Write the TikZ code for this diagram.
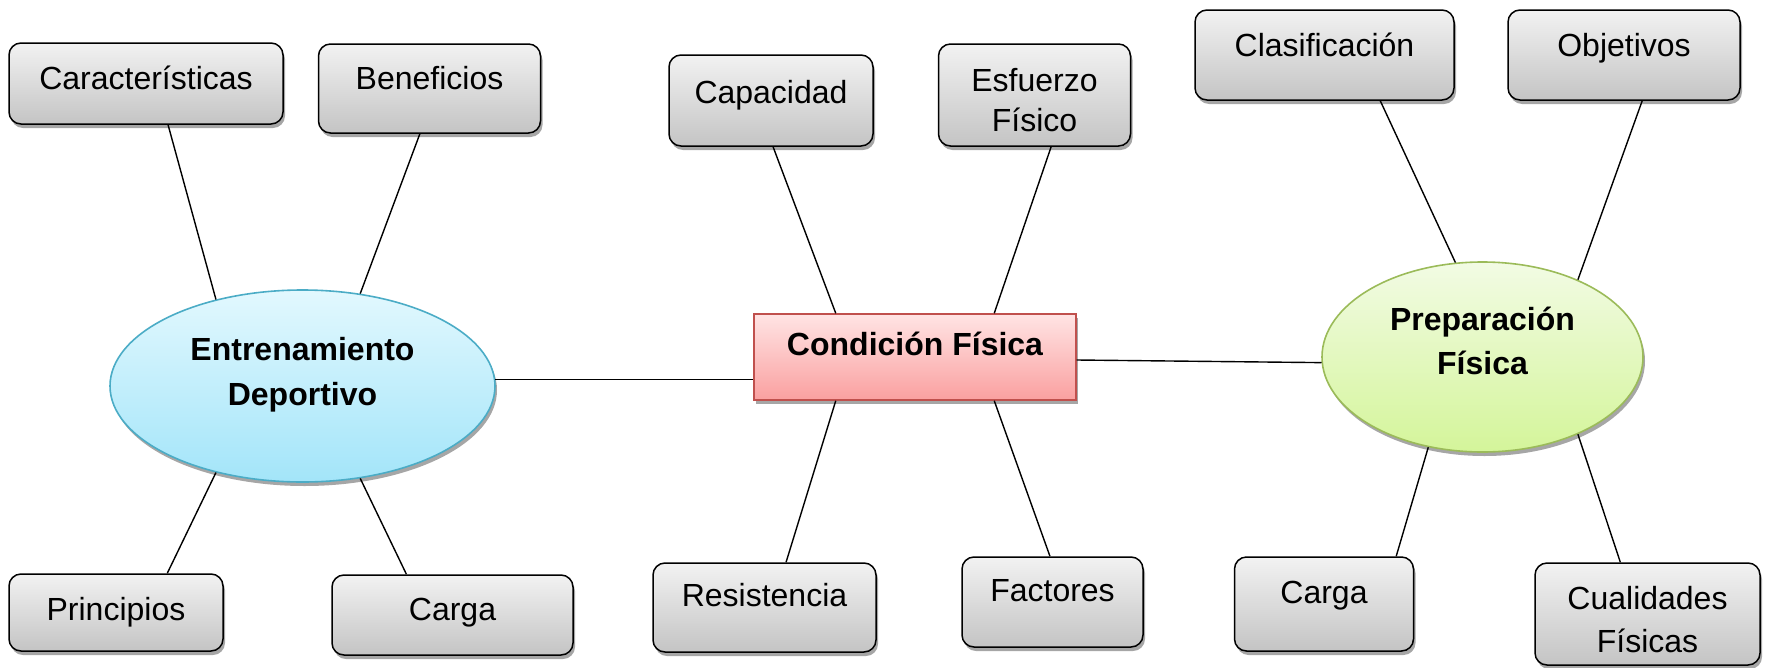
\documentclass[tikz,border=0pt]{standalone}
\usepackage{fontspec}
\setmainfont{Liberation Sans}
\usetikzlibrary{shapes.geometric,shadows,calc}
\definecolor{boxtop}{RGB}{242,242,242}
\definecolor{boxbot}{RGB}{196,196,196}
\definecolor{enttop}{RGB}{226,248,254}
\definecolor{entbot}{RGB}{163,229,249}
\definecolor{entline}{RGB}{75,172,198}
\definecolor{contop}{RGB}{255,228,228}
\definecolor{conbot}{RGB}{250,160,160}
\definecolor{conline}{RGB}{192,80,77}
\definecolor{pretop}{RGB}{242,251,228}
\definecolor{prebot}{RGB}{212,245,154}
\definecolor{preline}{RGB}{155,187,89}
\tikzset{
  shad/.style={drop shadow={shadow xshift=2pt,shadow yshift=-4pt,opacity=0.35,fill=black}},
  gbox/.style={rectangle,rounded corners=12pt,draw=black,line width=1.5pt,
    top color=boxtop,bottom color=boxbot,shad,inner sep=0pt},
  txt/.style={font=\fontsize{32}{38}\selectfont,text height=23pt,text depth=0pt,inner sep=0pt},
  btxt/.style={font=\fontsize{32}{38}\selectfont\bfseries,text height=23pt,text depth=0pt,inner sep=0pt},
  entst/.style={ellipse,draw=entline,line width=1.6pt,top color=enttop,bottom color=entbot,shad,inner sep=0pt},
  prest/.style={ellipse,draw=preline,line width=1.6pt,top color=pretop,bottom color=prebot,shad,inner sep=0pt},
  conds/.style={rectangle,draw=conline,line width=1.4pt,top color=contop,bottom color=conbot,shad,inner sep=0pt},
  conn/.style={draw=black,line width=1.4pt}
}
\begin{document}
\begin{tikzpicture}[x=1pt,y=-1pt]
\useasboundingbox (0,0) rectangle (1765,667);
% central nodes
\node[entst,minimum width=385pt,minimum height=192pt,
  label={[btxt,yshift=37pt]center:Entrenamiento},
  label={[btxt,yshift=-7.5pt]center:Deportivo}] (ent) at (302.5,386) {};
\node[conds,minimum width=322pt,minimum height=86pt,
  label={[btxt,yshift=13.5pt]center:Condición Física}] (cond) at (915,357) {};
\node[prest,minimum width=321pt,minimum height=190pt,
  label={[btxt,yshift=38pt]center:Preparación},
  label={[btxt,yshift=-5.5pt]center:Física}] (prep) at (1482.5,357) {};
% boxes
\node[gbox,minimum width=274pt,minimum height=81pt,label={[txt,yshift=6pt]center:Características}] (car) at (146,83.5) {};
\node[gbox,minimum width=222pt,minimum height=89pt,label={[txt,yshift=11pt]center:Beneficios}] (ben) at (429.5,88.5) {};
\node[gbox,minimum width=204pt,minimum height=91pt,label={[txt,yshift=9pt]center:Capacidad}] (cap) at (771,100.5) {};
\node[gbox,minimum width=192pt,minimum height=102pt,
  label={[txt,yshift=15pt]center:Esfuerzo},label={[txt,yshift=-25pt]center:Físico}] (esf) at (1034.5,95) {};
\node[gbox,minimum width=259pt,minimum height=90pt,label={[txt,yshift=10pt]center:Clasificación}] (cla) at (1324.5,55) {};
\node[gbox,minimum width=232pt,minimum height=90pt,label={[txt,yshift=10pt]center:Objetivos}] (obj) at (1624,55) {};
\node[gbox,minimum width=214pt,minimum height=77pt,label={[txt,yshift=3.5pt]center:Principios}] (pri) at (116,612.5) {};
\node[gbox,minimum width=241pt,minimum height=80pt,label={[txt,yshift=6pt]center:Carga}] (carL) at (452.5,615) {};
\node[gbox,minimum width=223pt,minimum height=89pt,label={[txt,yshift=12.5pt]center:Resistencia}] (res) at (764.5,607.5) {};
\node[gbox,minimum width=181pt,minimum height=90pt,label={[txt,yshift=12pt]center:Factores}] (fac) at (1052.5,602) {};
\node[gbox,minimum width=179pt,minimum height=94pt,label={[txt,yshift=12.5pt]center:Carga}] (carR) at (1324,604) {};
\node[gbox,minimum width=225pt,minimum height=102pt,
  label={[txt,yshift=16pt]center:Cualidades},label={[txt,yshift=-27pt]center:Físicas}] (cua) at (1647.5,614) {};
% connectors
\draw[conn] ($(car.south west)!0.58!(car.south east)$) -- (ent.135);
\draw[conn] ($(ben.south west)!0.457!(ben.south east)$) -- (ent.58);
\draw[conn] ($(pri.north west)!0.738!(pri.north east)$) -- (ent.225);
\draw[conn] ($(carL.north west)!0.31!(carL.north east)$) -- (ent.302);
\draw[conn] ($(cap.south west)!0.51!(cap.south east)$) -- ($(cond.north west)!0.255!(cond.north east)$);
\draw[conn] ($(esf.south west)!0.586!(esf.south east)$) -- ($(cond.north west)!0.745!(cond.north east)$);
\draw[conn] ($(res.north west)!0.596!(res.north east)$) -- ($(cond.south west)!0.255!(cond.south east)$);
\draw[conn] ($(fac.north west)!0.486!(fac.north east)$) -- ($(cond.south west)!0.745!(cond.south east)$);
\draw[conn] ($(cla.south west)!0.714!(cla.south east)$) -- (prep.106);
\draw[conn] ($(obj.south west)!0.578!(obj.south east)$) -- (prep.39);
\draw[conn] ($(carR.north west)!0.9!(carR.north east)$) -- (prep.239);
\draw[conn] ($(cua.north west)!0.38!(cua.north east)$) -- (prep.321);
\draw[conn] (ent.2) -- (ent.2 -| cond.west);
\draw[conn] ($(cond.east)+(0,3)$) -- (prep.182);
\end{tikzpicture}
\end{document}
